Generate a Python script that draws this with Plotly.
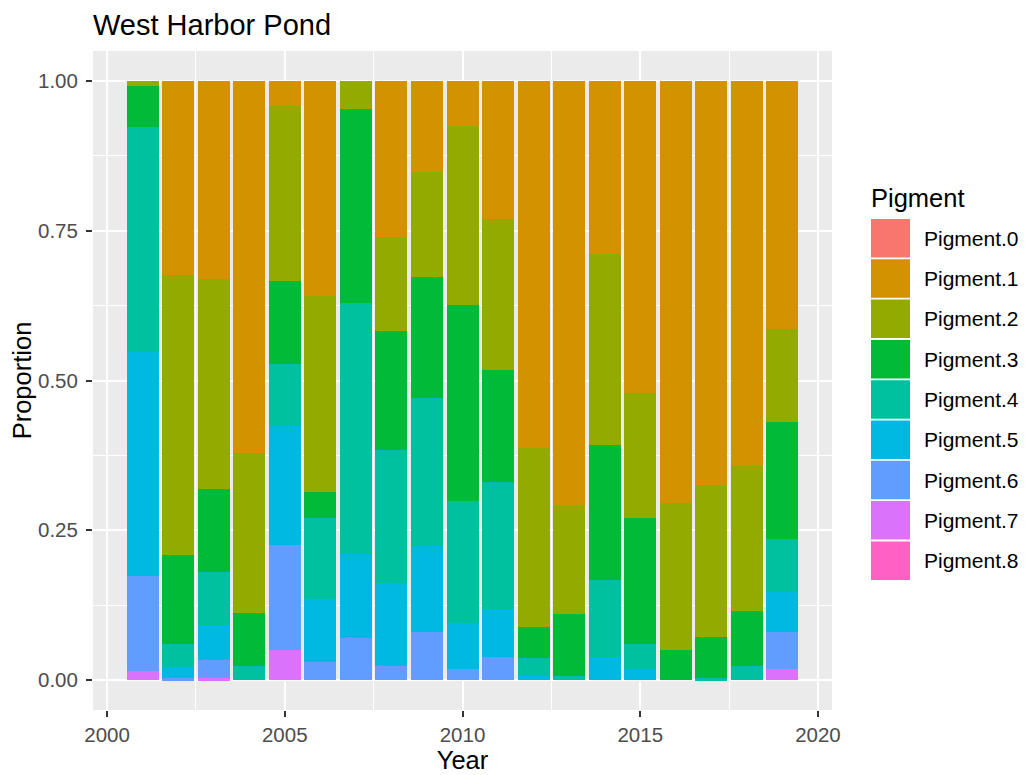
import plotly.graph_objects as go

years = list(range(2001, 2020))
pigments = ["Pigment.0", "Pigment.1", "Pigment.2", "Pigment.3", "Pigment.4",
            "Pigment.5", "Pigment.6", "Pigment.7", "Pigment.8"]
colors = ["#F8766D", "#D39200", "#93AA00", "#00BA38", "#00C19F",
          "#00B9E3", "#619CFF", "#DB72FB", "#FF61C3"]

p0 = [0] * 19
p1 = [0, 0.3244, 0.331, 0.6215, 0.0417, 0.3589, 0, 0.2609, 0.1519, 0.0751,
      0.2309, 0.6132, 0.7095, 0.2888, 0.5214, 0.705, 0.675, 0.6427, 0.4145]
p2 = [0.0083, 0.4674, 0.3506, 0.2671, 0.2922, 0.3272, 0.0472, 0.157, 0.1758, 0.2994,
      0.2521, 0.2988, 0.1808, 0.3194, 0.2081, 0.2449, 0.2537, 0.2426, 0.1548]
p3 = [0.069, 0.1486, 0.1386, 0.0885, 0.1386, 0.0434, 0.3239, 0.1986, 0.202, 0.3272,
      0.1869, 0.0518, 0.1035, 0.2254, 0.2109, 0.0501, 0.0685, 0.0918, 0.1958]
p4 = [0.375, 0.0384, 0.0885, 0.0229, 0.1035, 0.1358, 0.4185, 0.2221, 0.2471, 0.2036,
      0.2121, 0.03, 0.0062, 0.1285, 0.0417, 0, 0.0028, 0.0229, 0.088]
p5 = [0.3745, 0.0184, 0.0584, 0, 0.1991, 0.1052, 0.1408, 0.1385, 0.1436, 0.0768,
      0.0801, 0.0062, 0, 0.0379, 0.0179, 0, 0, 0, 0.0673]
p6 = [0.1586, 0.0028, 0.0301, 0, 0.1748, 0.0295, 0.0696, 0.0229, 0.0796, 0.0179,
      0.0379, 0, 0, 0, 0, 0, 0, 0, 0.0617]
p7 = [0.0145, 0, 0.0028, 0, 0.0501, 0, 0, 0, 0, 0,
      0, 0, 0, 0, 0, 0, 0, 0, 0.0179]
p8 = [0] * 19
series = [p0, p1, p2, p3, p4, p5, p6, p7, p8]

FONT = "Liberation Sans, Arial, sans-serif"
OFF = 8  # page body margin of the browser
W, H = 1029 - OFF, 775 - OFF
# panel edges in screenshot pixels, converted to figure pixels
L, R, T, B = 93 - OFF, 832 - OFF, 51 - OFF, 710 - OFF

fig = go.Figure()
# bottom of stack first (Pigment.8) -> top (Pigment.0)
for name, col, vals in reversed(list(zip(pigments, colors, series))):
    fig.add_trace(go.Bar(x=years, y=vals, name=name, marker_color=col,
                         marker_line_width=0, width=0.9, showlegend=False))

def px2paper_x(px):  # px in screenshot pixels
    return (px - OFF - L) / (R - L)

def px2paper_y(py):
    return (B - (py - OFF)) / (B - T)

shapes = []
annotations = []
# custom legend (ggplot style)
annotations.append(dict(text="Pigment", x=px2paper_x(869), y=px2paper_y(198),
                        xref="paper", yref="paper", xanchor="left", yanchor="middle",
                        showarrow=False, font=dict(family=FONT, size=25.5, color="black")))
for i, (name, col) in enumerate(zip(pigments, colors)):
    top = 219 + 40.3 * i
    bot = top + 38.5
    shapes.append(dict(type="rect", xref="paper", yref="paper",
                       x0=px2paper_x(871), x1=px2paper_x(910),
                       y0=px2paper_y(bot), y1=px2paper_y(top),
                       fillcolor=col, line=dict(width=0)))
    annotations.append(dict(text=name, x=px2paper_x(922), y=px2paper_y((top + bot) / 2),
                            xref="paper", yref="paper", xanchor="left", yanchor="middle",
                            showarrow=False, font=dict(family=FONT, size=21, color="black")))
# plot title
annotations.append(dict(text="West Harbor Pond", x=px2paper_x(91), y=px2paper_y(25),
                        xref="paper", yref="paper", xanchor="left", yanchor="middle",
                        showarrow=False, font=dict(family=FONT, size=29, color="black")))

fig.update_layout(
    width=W, height=H,
    margin=dict(l=L, r=W - R, t=T, b=H - B, autoexpand=False),
    barmode="stack",
    paper_bgcolor="white",
    plot_bgcolor="#EBEBEB",
    font=dict(family=FONT, color="black"),
    shapes=shapes,
    annotations=annotations,
    showlegend=False,
    xaxis=dict(
        range=[1999.605, 2020.395], tickvals=[2000, 2005, 2010, 2015, 2020],
        showgrid=True, gridcolor="white", gridwidth=2.2, zeroline=False,
        ticks="outside", ticklen=6, tickwidth=2, tickcolor="#333333",
        ticklabelstandoff=0,
        tickfont=dict(family=FONT, size=20.5, color="#4D4D4D"),
        minor=dict(tickvals=[2002.5, 2007.5, 2012.5, 2017.5], showgrid=True,
                   gridcolor="white", gridwidth=1.1, ticks=""),
        title=dict(text="Year", font=dict(family=FONT, size=25.5, color="black"), standoff=5),
        showline=False, automargin=False, fixedrange=True,
    ),
    yaxis=dict(
        range=[-0.05, 1.05], tickvals=[0, 0.25, 0.5, 0.75, 1.0], tickformat=".2f",
        showgrid=True, gridcolor="white", gridwidth=2.2, zeroline=False,
        ticks="outside", ticklen=6, tickwidth=2, tickcolor="#333333",
        ticklabelstandoff=4,
        tickfont=dict(family=FONT, size=20.5, color="#4D4D4D"),
        minor=dict(tickvals=[0.125, 0.375, 0.625, 0.875], showgrid=True,
                   gridcolor="white", gridwidth=1.1, ticks=""),
        title=dict(text="Proportion", font=dict(family=FONT, size=25.5, color="black"), standoff=6),
        showline=False, automargin=False, fixedrange=True,
    ),
)

fig.write_html("out.html")
